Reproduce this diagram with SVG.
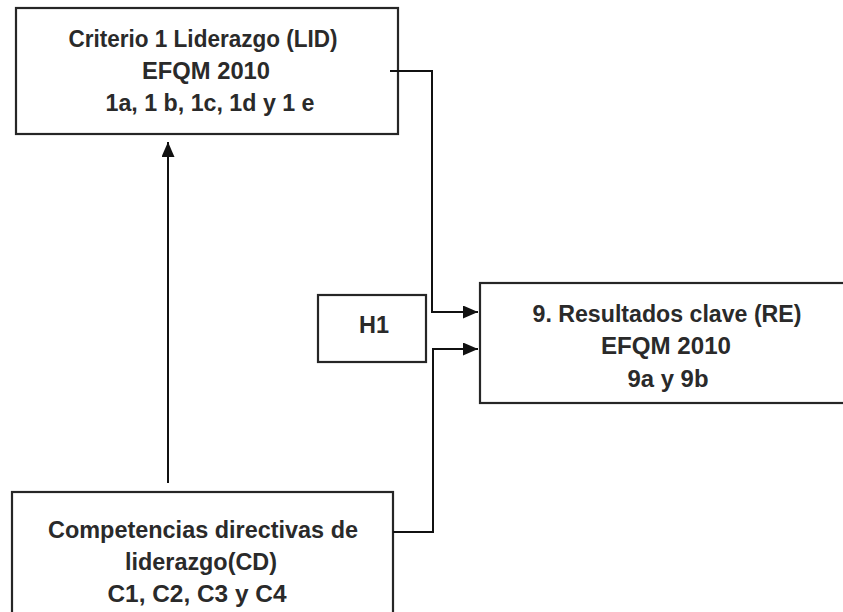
<svg xmlns="http://www.w3.org/2000/svg" width="843" height="612" viewBox="0 0 843 612">
<style>
.box{fill:#fff;stroke:#262626;stroke-width:2.2}
.t{font-family:"Liberation Sans",Arial,sans-serif;font-size:23px;font-weight:bold;fill:#2a2a2a;text-anchor:middle}
.c{fill:none;stroke:#111;stroke-width:2}
</style>
<defs>
<marker id="ah" viewBox="0 0 15 13" refX="15" refY="6.5" markerWidth="15" markerHeight="13" orient="auto" markerUnits="userSpaceOnUse">
<path d="M0,0 L15,6.5 L0,13 Z" fill="#111"/>
</marker>
</defs>
<rect width="843" height="612" fill="#fff"/>
<g id="lid">
<rect class="box" x="16" y="8" width="382" height="126"/>
<text class="t" x="203" y="47" textLength="269" lengthAdjust="spacingAndGlyphs">Criterio 1 Liderazgo (LID)</text>
<text class="t" x="206" y="79" textLength="128" lengthAdjust="spacingAndGlyphs">EFQM 2010</text>
<text class="t" x="210" y="111" textLength="209" lengthAdjust="spacingAndGlyphs">1a, 1 b, 1c,  1d y 1 e</text>
</g>
<g id="h1">
<rect class="box" x="318" y="295" width="108" height="67"/>
<text class="t" x="374" y="333" textLength="30" lengthAdjust="spacingAndGlyphs">H1</text>
</g>
<g id="re">
<rect class="box" x="480" y="283" width="380" height="120"/>
<text class="t" x="667" y="322" textLength="269" lengthAdjust="spacingAndGlyphs">9. Resultados clave (RE)</text>
<text class="t" x="666" y="354" textLength="130" lengthAdjust="spacingAndGlyphs">EFQM 2010</text>
<text class="t" x="668" y="387" textLength="81" lengthAdjust="spacingAndGlyphs">9a y 9b</text>
</g>
<g id="cd">
<rect class="box" x="12" y="492" width="381" height="130"/>
<text class="t" x="203" y="538" textLength="310" lengthAdjust="spacingAndGlyphs">Competencias directivas de</text>
<text class="t" x="201" y="570" textLength="152" lengthAdjust="spacingAndGlyphs">liderazgo(CD)</text>
<text class="t" x="197" y="602" textLength="179" lengthAdjust="spacingAndGlyphs">C1, C2, C3 y C4</text>
</g>
<g id="connectors">
<path class="c" d="M390,71 H432 V312 H478" marker-end="url(#ah)"/>
<path class="c" d="M393,532 H433 V349 H478" marker-end="url(#ah)"/>
<path class="c" d="M168,483 V142" marker-end="url(#ah)"/>
</g>
</svg>
